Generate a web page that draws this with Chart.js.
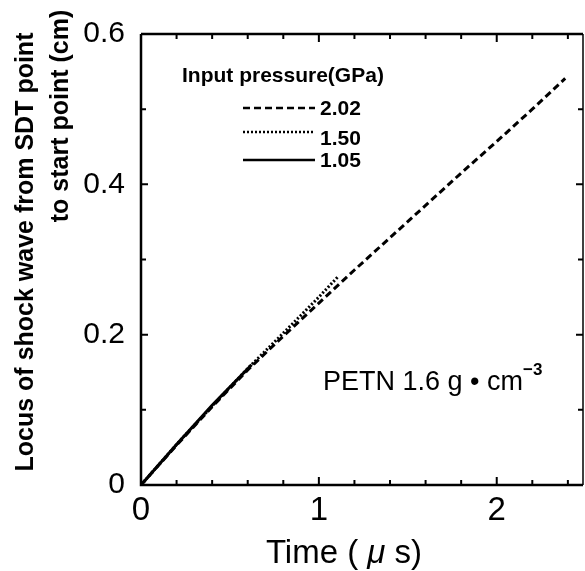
<!DOCTYPE html>
<html>
<head>
<meta charset="utf-8">
<script src="https://cdn.jsdelivr.net/npm/chart.js@4.4.1/dist/chart.umd.min.js"></script>
<style>
  html, body { margin: 0; padding: 0; background: #fff; }
  #wrap { width: 585px; height: 571px; }
</style>
</head>
<body>
<div id="wrap"><canvas id="chart" width="585" height="571"></canvas></div>
<script>
// ── data ──────────────────────────────────────────────────────
const pressures = ['2.02', '1.50', '1.05'];
const t202 = [0, 0.2, 0.4, 0.6, 0.8, 1.0, 1.2, 1.4, 1.6, 1.8, 2.0, 2.2, 2.385];
const s202 = [0, 0.053, 0.104, 0.153, 0.198, 0.242, 0.286, 0.329, 0.372, 0.415, 0.457, 0.500, 0.541];
const t150 = [0, 0.2, 0.4, 0.6, 0.8, 1.0, 1.107];
const s150 = [0, 0.054, 0.105, 0.155, 0.202, 0.250, 0.277];
const t105 = [0, 0.2, 0.4, 0.622];
const s105 = [0, 0.054, 0.106, 0.160];
const xTicks = [0, 0.2, 0.4, 0.6, 0.8, 1, 1.2, 1.4, 1.6, 1.8, 2, 2.2, 2.4];
const xLabels = [0, 1, 2];
const yTicks = [0, 0.1, 0.2, 0.3, 0.4, 0.5, 0.6];
const yLabels = [0, 0.2, 0.4, 0.6];

const FONT = '"Liberation Sans", Arial, sans-serif';
const dashes = [[7, 4], [2, 2], []];
const pts = (xs, ys) => xs.map((x, i) => ({ x, y: ys[i] }));
const series = [pts(t202, s202), pts(t150, s150), pts(t105, s105)];

// ── frame, inward ticks, texts ────────────────────────────────
const decor = {
    id: 'decor',
    afterDraw(chart) {
        const { ctx, chartArea: a, scales: { x, y } } = chart;
        ctx.save();
        ctx.strokeStyle = '#000';
        ctx.lineWidth = 2.5;
        ctx.setLineDash([]);
        ctx.beginPath();
        ctx.moveTo(a.left, a.top); ctx.lineTo(a.right, a.top);
        ctx.moveTo(a.left, a.top); ctx.lineTo(a.left, a.bottom); ctx.lineTo(a.right, a.bottom);
        ctx.stroke();
        ctx.lineWidth = 1.5;
        ctx.beginPath(); ctx.moveTo(a.right, a.top); ctx.lineTo(a.right, a.bottom); ctx.stroke();

        ctx.lineWidth = 2;
        ctx.beginPath();
        xTicks.forEach(v => {
            const px = x.getPixelForValue(v);
            const len = xLabels.includes(v) ? 8 : 5;
            ctx.moveTo(px, a.bottom); ctx.lineTo(px, a.bottom - len);
            ctx.moveTo(px, a.top); ctx.lineTo(px, a.top + len);
        });
        yTicks.forEach(v => {
            const py = y.getPixelForValue(v);
            const len = yLabels.includes(v) ? 7 : 5;
            ctx.moveTo(a.left, py); ctx.lineTo(a.left + len, py);
            ctx.moveTo(a.right, py); ctx.lineTo(a.right - len, py);
        });
        ctx.stroke();

        ctx.fillStyle = '#000';
        // y title, two rotated lines
        ctx.font = 'bold 25px ' + FONT;
        ctx.textAlign = 'center';
        ctx.textBaseline = 'alphabetic';
        [['Locus of shock wave from SDT point', 33, 252], ['to start point (cm)', 68, 116]].forEach(([txt, bx, cy]) => {
            ctx.save();
            ctx.translate(bx, cy);
            ctx.rotate(-Math.PI / 2);
            ctx.fillText(txt, 0, 0);
            ctx.restore();
        });

        // x title with italic mu
        const parts = [['Time ( ', '33px ' + FONT], ['\u03BC', 'italic 33px ' + FONT], [' s)', '33px ' + FONT]];
        let w = 0;
        parts.forEach(([t, f]) => { ctx.font = f; w += ctx.measureText(t).width; });
        let cx = 344 - w / 2;
        ctx.textAlign = 'left';
        parts.forEach(([t, f]) => { ctx.font = f; ctx.fillText(t, cx, 563); cx += ctx.measureText(t).width; });

        // legend
        ctx.font = 'bold 21px ' + FONT;
        ctx.fillText('Input pressure(GPa)', 182, 82);
        const rows = [[108, 115], [132, 145], [160, 167]];
        pressures.forEach((p, i) => {
            ctx.lineWidth = 2.5;
            ctx.setLineDash(dashes[i]);
            ctx.beginPath(); ctx.moveTo(243, rows[i][0]); ctx.lineTo(315, rows[i][0]); ctx.stroke();
            ctx.fillText(p, 320, rows[i][1]);
        });
        ctx.setLineDash([]);

        // material note
        ctx.font = '27px ' + FONT;
        const note = 'PETN 1.6 g \u2022 cm';
        ctx.fillText(note, 323, 390);
        const nw = ctx.measureText(note).width;
        ctx.font = 'bold 17px ' + FONT;
        ctx.fillText('\u22123', 323 + nw, 375);
        ctx.restore();
    }
};

new Chart(document.getElementById('chart'), {
    type: 'line',
    data: {
        datasets: series.map((d, i) => ({
            label: pressures[i], data: d,
            borderColor: '#000', borderWidth: 3, borderDash: dashes[i],
            pointRadius: 0, fill: false, tension: 0,
        }))
    },
    options: {
        responsive: false, animation: false,
        layout: { padding: { top: 34, right: 2, left: 0, bottom: 0 } },
        plugins: { legend: { display: false }, tooltip: { enabled: false } },
        scales: {
            x: {
                type: 'linear', min: 0, max: 2.485,
                grid: { display: false }, border: { display: false },
                afterBuildTicks: s => { s.ticks = xTicks.map(v => ({ value: v })); },
                afterFit: s => { s.height = 86; },
                ticks: {
                    autoSkip: false, maxRotation: 0, padding: -2, color: '#000',
                    font: { family: FONT, size: 33 },
                    callback: v => xLabels.includes(v) ? String(v) : ''
                }
            },
            y: {
                type: 'linear', min: 0, max: 0.6,
                grid: { display: false }, border: { display: false },
                afterBuildTicks: s => { s.ticks = yTicks.map(v => ({ value: v })); },
                afterFit: s => { s.width = 141; },
                ticks: {
                    autoSkip: false, padding: 8, color: '#000',
                    font: { family: FONT, size: 30 },
                    callback: v => yLabels.includes(v) ? String(v) : ''
                }
            }
        }
    },
    plugins: [decor]
});
</script>
</body>
</html>
